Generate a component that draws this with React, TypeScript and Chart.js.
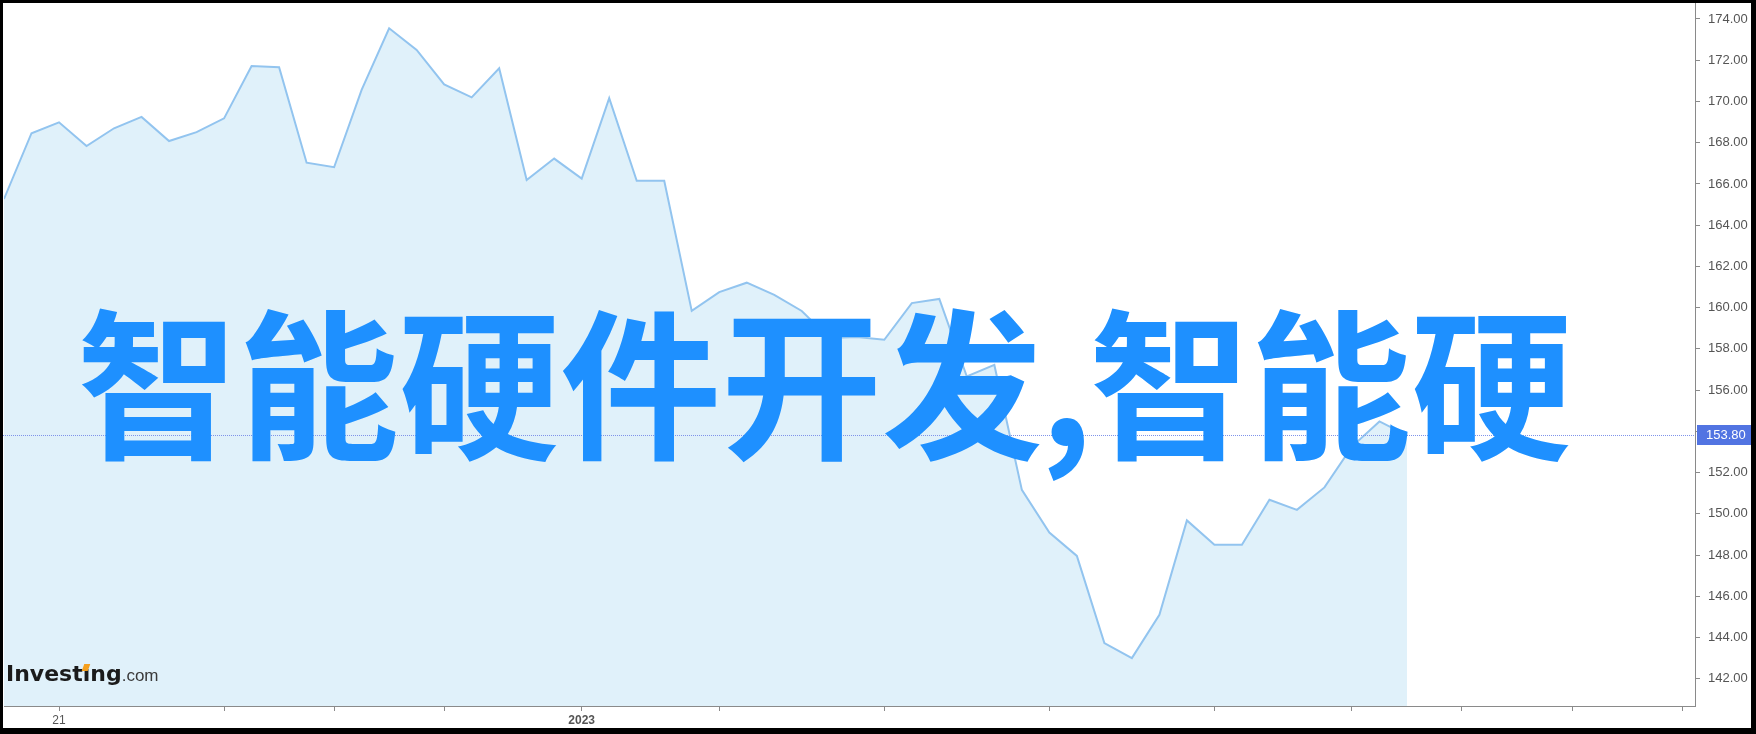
import React, { useEffect, useRef } from "react";
import { Chart, registerables } from "chart.js";

Chart.register(...registerables);

// ---- data ----
const weekIndex = [
  0, 1, 2, 3, 4, 5, 6, 7, 8, 9, 10, 11, 12, 13, 14, 15, 16, 17, 18, 19, 20, 21, 22, 23, 24, 25,
  26, 27, 28, 29, 30, 31, 32, 33, 34, 35, 36, 37, 38, 39, 40, 41, 42, 43, 44, 45, 46, 47, 48, 49, 50, 51,
];
const prices = [
  165.27, 168.46, 168.99, 167.84, 168.7, 169.25, 168.08, 168.51, 169.18, 171.72, 171.66, 167.03, 166.81,
  170.56, 173.55, 172.5, 170.83, 170.2, 171.61, 166.19, 167.23, 166.26, 170.16, 166.15, 166.15, 159.84,
  160.75, 161.21, 160.62, 159.84, 158.53, 158.58, 158.44, 160.22, 160.42, 156.66, 157.22, 151.16, 149.09,
  147.96, 143.73, 143.0, 145.1, 149.68, 148.5, 148.5, 150.68, 150.19, 151.28, 153.26, 154.48, 153.8,
];
const yTickValues = [142, 144, 146, 148, 150, 152, 154, 156, 158, 160, 162, 164, 166, 168, 170, 172, 174];
const xTickPositions = [2, 8, 12, 16, 21, 26, 32, 38, 44, 49, 53, 57, 61];
const xTickLabels = ["21", "", "", "", "2023", "", "", "", "", "", "", "", ""];
const lastPrice = 153.8;
const overlayTitleHead = "智能硬件开发";
const overlayComma = ",";
const overlayTitleTail = "智能硬";
const logoMain = "Investing";
const logoSuffix = ".com";

const AXIS_FONT = "Arial, 'Liberation Sans', sans-serif";

const xLabelFor = (v: number) => {
  const i = xTickPositions.indexOf(Math.round(v));
  return i >= 0 ? xTickLabels[i] : "";
};

const lastPricePlugin = {
  id: "lastPrice",
  afterDraw(chart: any) {
    const { ctx, chartArea, scales } = chart;
    const y = scales.y;
    const py = Math.round(y.getPixelForValue(lastPrice)) + 0.5;
    ctx.save();
    ctx.strokeStyle = "#7F93EA";
    ctx.lineWidth = 1;
    ctx.setLineDash([1, 1]);
    ctx.beginPath();
    ctx.moveTo(chartArea.left - 1, py);
    ctx.lineTo(chartArea.right, py);
    ctx.stroke();
    ctx.setLineDash([]);
    ctx.fillStyle = "#5274E2";
    ctx.fillRect(chartArea.right + 2, py - 10.5, chart.width - chartArea.right - 2, 20);
    ctx.fillStyle = "#ffffff";
    ctx.font = `13px ${AXIS_FONT}`;
    ctx.textBaseline = "middle";
    ctx.textAlign = "left";
    ctx.fillText(lastPrice.toFixed(2), chartArea.right + 11, py);
    ctx.restore();
  },
};

export default function App() {
  const canvasRef = useRef<HTMLCanvasElement | null>(null);

  useEffect(() => {
    document.body.style.margin = "0";
    const canvas = canvasRef.current;
    if (!canvas) return;
    const chart = new Chart(canvas, {
      type: "line",
      data: {
        datasets: [
          {
            data: prices.map((p, i) => ({ x: weekIndex[i], y: p })),
            borderColor: "#92C4EF",
            borderWidth: 2,
            backgroundColor: "rgb(224,241,250)",
            fill: "start",
            pointRadius: 0,
            pointHoverRadius: 0,
            tension: 0,
          },
        ],
      },
      options: {
        animation: false,
        responsive: false,
        maintainAspectRatio: false,
        devicePixelRatio: 1,
        layout: { padding: { left: 1, top: 0, right: 0, bottom: 0 } },
        plugins: {
          legend: { display: false },
          tooltip: { enabled: false },
          title: { display: false },
        },
        scales: {
          x: {
            type: "linear",
            min: 0,
            max: 61.47,
            afterBuildTicks: (s: any) => {
              s.ticks = xTickPositions.map((v) => ({ value: v }));
            },
            afterFit: (s: any) => {
              s.height = 22;
              s.paddingLeft = 0;
              s.paddingRight = 0;
            },
            ticks: {
              autoSkip: false,
              maxRotation: 0,
              minRotation: 0,
              padding: 2,
              color: "#555555",
              font: (ctx: any) => ({
                family: AXIS_FONT,
                size: 12,
                weight: ctx.tick && xLabelFor(ctx.tick.value) === "2023" ? "bold" : "normal",
              }),
              callback: (v: any) => xLabelFor(Number(v)),
            },
            grid: { drawOnChartArea: false, drawTicks: true, tickLength: 5, color: "#8a8a8a" },
            border: { display: true, color: "#8a8a8a", width: 1 },
          },
          y: {
            position: "right",
            min: 140.678,
            max: 174.776,
            afterBuildTicks: (s: any) => {
              s.ticks = yTickValues.map((v) => ({ value: v }));
            },
            afterFit: (s: any) => {
              s.width = 56;
              s.paddingTop = 0;
              s.paddingBottom = 0;
            },
            ticks: {
              padding: 8,
              color: "#555555",
              font: { family: AXIS_FONT, size: 13 },
              callback: (v: any) => Number(v).toFixed(2),
            },
            grid: { drawOnChartArea: false, drawTicks: true, tickLength: 5, color: "#8a8a8a" },
            border: { display: true, color: "#8a8a8a", width: 1 },
          },
        },
      },
      plugins: [lastPricePlugin],
    });
    return () => chart.destroy();
  }, []);

  return (
    <div
      style={{
        position: "fixed",
        left: 0,
        top: 0,
        width: 1756,
        height: 734,
        boxSizing: "border-box",
        borderStyle: "solid",
        borderColor: "#000",
        borderWidth: "3px 5px 6px 3px",
        background: "#fff",
        overflow: "hidden",
      }}
    >
      <canvas ref={canvasRef} width={1748} height={725} style={{ display: "block", width: 1748, height: 725 }} />
      <div
        style={{
          position: "absolute",
          left: 3,
          top: 660,
          fontFamily: "'DejaVu Sans', sans-serif",
          fontWeight: 700,
          fontSize: 22,
          lineHeight: "22px",
          color: "#1b1b1b",
          whiteSpace: "nowrap",
        }}
      >
        {logoMain}
        <span
          style={{
            fontFamily: "Arial, 'Liberation Sans', sans-serif",
            fontWeight: 400,
            fontSize: 17,
            lineHeight: 0,
            color: "#3a3a3a",
          }}
        >
          {logoSuffix}
        </span>
      </div>
      <div
        style={{
          position: "absolute",
          left: 80,
          top: 661,
          width: 6,
          height: 7,
          background: "#F5A01E",
          transform: "skewX(-20deg)",
        }}
      />
      <div
        style={{
          position: "absolute",
          left: 74,
          top: 292,
          fontFamily: "'Noto Sans CJK SC', 'Noto Sans CJK TC', sans-serif",
          fontWeight: 700,
          fontSize: 161,
          lineHeight: "163px",
          color: "#1E90FF",
          whiteSpace: "nowrap",
        }}
      >
        {overlayTitleHead}
        <span style={{ marginLeft: -3, marginRight: -3 }}>{overlayComma}</span>
        {overlayTitleTail}
      </div>
    </div>
  );
}
